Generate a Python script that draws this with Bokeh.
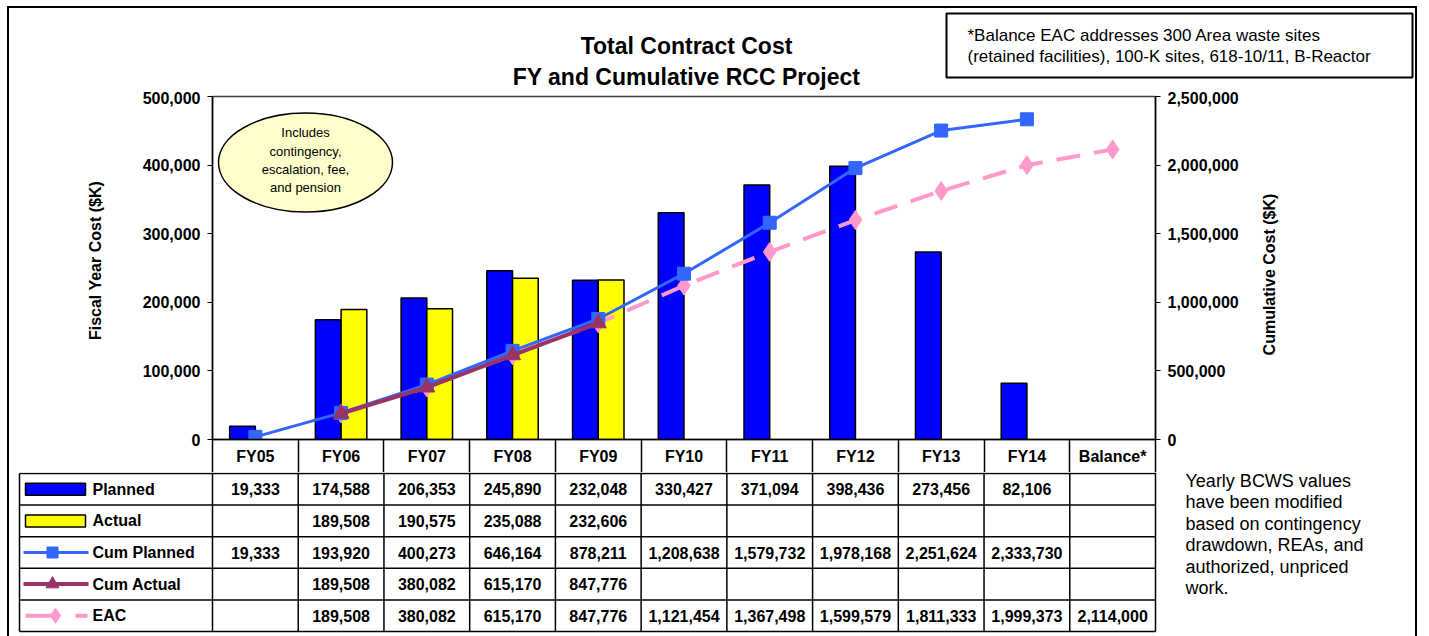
import math
from bokeh.plotting import figure
from bokeh.models import Range1d, LinearAxis, FixedTicker, NumeralTickFormatter
from bokeh.layouts import column, row
from bokeh.embed import file_html
from bokeh.resources import INLINE
from bokeh.core.properties import value

# ---------------- data ----------------
categories = ["FY05", "FY06", "FY07", "FY08", "FY09", "FY10", "FY11", "FY12", "FY13", "FY14", "Balance*"]
planned = [19333, 174588, 206353, 245890, 232048, 330427, 371094, 398436, 273456, 82106, None]
actual = [None, 189508, 190575, 235088, 232606, None, None, None, None, None, None]
cum_planned = [19333, 193920, 400273, 646164, 878211, 1208638, 1579732, 1978168, 2251624, 2333730, None]
cum_actual = [None, 189508, 380082, 615170, 847776, None, None, None, None, None, None]
eac = [None, 189508, 380082, 615170, 847776, 1121454, 1367498, 1599579, 1811333, 1999373, 2114000]
row_names = ["Planned", "Actual", "Cum Planned", "Cum Actual", "EAC"]
left_ticks = [0, 100000, 200000, 300000, 400000, 500000]
right_ticks = [0, 500000, 1000000, 1500000, 2000000, 2500000]
title_lines = ["Total Contract Cost", "FY and Cumulative RCC Project"]
left_title = "Fiscal Year Cost ($K)"
right_title = "Cumulative Cost ($K)"
box_lines = ["*Balance EAC addresses 300 Area waste sites",
             "(retained facilities), 100-K sites, 618-10/11, B-Reactor"]
ellipse_lines = ["Includes", "contingency,", "escalation, fee,", "and pension"]
note_lines = ["Yearly BCWS values", "have been modified", "based on contingency",
              "drawdown, REAs, and", "authorized, unpriced", "work."]

FONT = "Liberation Sans"
BLUE, YELLOW = "#0000FF", "#FFFF00"
CP_COL, CA_COL, EAC_COL = "#3366FF", "#993366", "#FF99CC"

# ---------------- layout (page pixels) ----------------
OX, OY = 9, 8                 # where the whole layout starts on the page
W = 1406
FR_L, FR_R, FR_T, ZERO_Y, HDR_B = 212, 1155, 96, 439, 472
P1_TOP = 91
P1_L, P1_R = 129, 1250        # p1 canvas spans these page x
N = len(categories)
UX = (FR_R - FR_L) / N
YMAX_L, YMAX_R = left_ticks[-1], right_ticks[-1]
PPY = (ZERO_Y - FR_T) / YMAX_L


def px2x(px):
    return (px - FR_L) / UX


def py2y(py):
    return (ZERO_Y - py) / PPY


def bare(p):
    if "frame_align" in p.properties():
        p.frame_align = False
    p.min_border_left = p.min_border_right = p.min_border_top = p.min_border_bottom = 0
    p.outline_line_color = None
    p.xgrid.visible = False
    p.ygrid.visible = False
    return p


def page_fig(x0, x1, y0, y1):
    """a figure whose data coordinates are page pixels (y downwards)"""
    return bare(figure(width=x1 - x0, height=y1 - y0, output_backend="svg", toolbar_location=None,
                       x_range=Range1d(x0, x1), y_range=Range1d(y1, y0), min_border=0,
                       x_axis_location=None, y_axis_location=None))


xs = [i + 0.5 for i in range(N)]

# ---------------- top strip: title + note box ----------------
p0 = page_fig(OX, OX + W, OY, P1_TOP)
p0.text(x=[686, 686], y=[45, 76], text=title_lines, text_font=value(FONT), text_font_style="bold",
        text_font_size="23px", text_align="center", text_baseline="middle", text_color="black")
p0.quad(left=[946], right=[1412], top=[13], bottom=[77], fill_color="white",
        line_color="black", line_width=2)
p0.text(x=[967, 967], y=[34.5, 55.5], text=box_lines, text_font=value(FONT), text_font_size="17px",
        text_align="left", text_baseline="middle", text_color="black")

# ---------------- axis titles (side strips) ----------------
pL = page_fig(OX, P1_L, P1_TOP, HDR_B)
pL.text(x=[95], y=[260], text=[left_title], angle=math.pi / 2, text_font=value(FONT),
        text_font_style="bold", text_font_size="16px", text_align="center", text_baseline="middle",
        text_color="black")
pR = page_fig(P1_R, OX + W, P1_TOP, HDR_B)
pR.text(x=[1269], y=[274], text=[right_title], angle=math.pi / 2, text_font=value(FONT),
        text_font_style="bold", text_font_size="16px", text_align="center", text_baseline="middle",
        text_color="black")

# ---------------- chart ----------------
p1 = figure(width=P1_R - P1_L, height=HDR_B - P1_TOP, output_backend="svg", toolbar_location=None,
            x_range=Range1d(0, N), y_range=Range1d(0, YMAX_L),
            min_border_left=FR_L - P1_L, min_border_right=P1_R - FR_R,
            min_border_top=FR_T - P1_TOP, min_border_bottom=HDR_B - ZERO_Y,
            x_axis_location="below", y_axis_location="left")
if "frame_align" in p1.properties():
    p1.frame_align = False
p1.outline_line_color = "#404040"
p1.outline_line_width = 1.5
p1.xgrid.visible = False
p1.ygrid.visible = False
p1.extra_y_ranges = {"cum": Range1d(0, YMAX_R)}


def style_axis(ax, ticks):
    ax.ticker = FixedTicker(ticks=ticks)
    ax.formatter = NumeralTickFormatter(format="0,0")
    ax.major_label_text_font = FONT
    ax.major_label_text_font_style = "bold"
    ax.major_label_text_font_size = "16px"
    ax.major_label_text_color = "black"
    ax.major_tick_out = 5
    ax.major_tick_in = 0
    ax.minor_tick_out = 0
    ax.minor_tick_in = 0
    ax.major_label_standoff = 7
    ax.axis_line_color = "black"
    ax.axis_line_width = 1.5
    ax.major_tick_line_color = "black"


style_axis(p1.yaxis[0], left_ticks)
raxis = LinearAxis(y_range_name="cum")
style_axis(raxis, right_ticks)
p1.add_layout(raxis, "right")

# x axis = header row of the table (minor ticks draw the cell borders)
HDR_H = HDR_B - ZERO_Y
xax = p1.xaxis[0]
xax.ticker = FixedTicker(ticks=xs, minor_ticks=list(range(0, N + 1)))
xax.major_label_overrides = {x: c for x, c in zip(xs, categories)}
xax.major_label_text_font = FONT
xax.major_label_text_font_style = "bold"
xax.major_label_text_font_size = "16px"
xax.major_label_text_color = "black"
xax.major_label_standoff = 8 - HDR_H
xax.major_tick_out = 0
xax.major_tick_in = 0
xax.minor_tick_in = 0
xax.minor_tick_out = HDR_H
xax.minor_tick_line_color = "black"
xax.minor_tick_line_width = 1.5
xax.axis_line_color = "black"
xax.axis_line_width = 1.5

# bars
pl_x = [x - 0.15 for x, v in zip(xs, planned) if v is not None]
pl_v = [v for v in planned if v is not None]
ac_x = [x + 0.15 for x, v in zip(xs, actual) if v is not None]
ac_v = [v for v in actual if v is not None]
p1.vbar(x=pl_x, top=pl_v, width=0.3, fill_color=BLUE, line_color="black", line_width=1.5)
p1.vbar(x=ac_x, top=ac_v, width=0.3, fill_color=YELLOW, line_color="black", line_width=1.5)


def sel(vals):
    return [x for x, v in zip(xs, vals) if v is not None], [v for v in vals if v is not None]


ex, ev = sel(eac)
p1.line(ex, ev, y_range_name="cum", line_color=EAC_COL, line_width=4, line_dash="24 14")
p1.scatter(ex, ev, y_range_name="cum", marker="diamond", size=19, fill_color=EAC_COL, line_color=EAC_COL)
cx, cv = sel(cum_planned)
p1.line(cx, cv, y_range_name="cum", line_color=CP_COL, line_width=3)
p1.scatter(cx, cv, y_range_name="cum", marker="square", size=13, fill_color=CP_COL, line_color=CP_COL)
ax_, av_ = sel(cum_actual)
p1.line(ax_, av_, y_range_name="cum", line_color=CA_COL, line_width=4)
p1.scatter(ax_, av_, y_range_name="cum", marker="triangle", size=16, fill_color=CA_COL, line_color=CA_COL)

# ellipse note
p1.ellipse(x=[px2x(305)], y=[py2y(162)], width=174, height=99, width_units="screen", height_units="screen",
           fill_color="#FFFFCC", line_color="black", line_width=1.5)
p1.text(x=[px2x(305)] * 4, y=[py2y(v) for v in (132, 151, 169, 187)], text=ellipse_lines,
        text_font=value(FONT), text_font_size="13px", text_align="center", text_baseline="middle",
        text_color="black")

# ---------------- table ----------------
T_TOP, T_BOT = 473, 631
ROW = (T_BOT - T_TOP) / 5
PAGE_B = 636


def ty(py):
    return 5 - (py - T_TOP) / ROW


p2 = bare(figure(width=W, height=PAGE_B - HDR_B, output_backend="svg", toolbar_location=None,
                 x_range=Range1d(px2x(OX), px2x(OX + W)),
                 y_range=Range1d(ty(PAGE_B), ty(HDR_B)), min_border=0,
                 x_axis_location=None, y_axis_location=None))

XL = px2x(19)
p2.segment(x0=[XL] * 6, y0=list(range(6)), x1=[N] * 6, y1=list(range(6)), line_color="black", line_width=1.5)
vx = list(range(N + 1))
p2.segment(x0=vx, y0=[0] * len(vx), x1=vx, y1=[ty(HDR_B)] * len(vx), line_color="black", line_width=1.5)
p2.segment(x0=[XL], y0=[0], x1=[XL], y1=[5], line_color="black", line_width=1.5)

rows = [planned, actual, cum_planned, cum_actual, eac]
tx, tyv, tt = [], [], []
for r, vals in enumerate(rows):
    for i, v in enumerate(vals):
        if v is not None:
            tx.append(xs[i])
            tyv.append(4.5 - r)
            tt.append(f"{v:,}")
p2.text(x=tx, y=tyv, text=tt, text_font=value(FONT), text_font_style="bold", text_font_size="16px",
        text_align="center", text_baseline="middle", text_color="black")
p2.text(x=[px2x(92)] * 5, y=[4.5 - r for r in range(5)], text=row_names, text_font=value(FONT),
        text_font_style="bold", text_font_size="16px", text_align="left", text_baseline="middle",
        text_color="black")

# legend swatches
p2.rect(x=[px2x(55)] * 2, y=[4.5, 3.5], width=60, height=12, width_units="screen", height_units="screen",
        fill_color=[BLUE, YELLOW], line_color="black", line_width=1.5)
p2.line([px2x(23), px2x(88)], [2.5, 2.5], line_color=CP_COL, line_width=3)
p2.scatter([px2x(52)], [2.5], marker="square", size=11, fill_color=CP_COL, line_color=CP_COL)
p2.line([px2x(23), px2x(88)], [1.5, 1.5], line_color=CA_COL, line_width=4)
p2.scatter([px2x(52)], [1.5], marker="triangle", size=13, fill_color=CA_COL, line_color=CA_COL)
p2.segment(x0=[px2x(25), px2x(75)], y0=[0.5, 0.5], x1=[px2x(58), px2x(87)], y1=[0.5, 0.5],
           line_color=EAC_COL, line_width=4)
p2.scatter([px2x(55)], [0.5], marker="diamond", size=15, fill_color=EAC_COL, line_color=EAC_COL)

p2.text(x=[px2x(1185)] * 6, y=[ty(480 + 21.5 * k) for k in range(6)], text=note_lines,
        text_font=value(FONT), text_font_size="18px", text_align="left", text_baseline="middle",
        text_color="black")

layout = column(p0, row(pL, p1, pR), p2,
                styles={"outline": "2px solid black", "margin-left": f"{OX}px", "margin-top": f"{OY}px"})
open("out.html", "w").write(file_html(layout, INLINE))
